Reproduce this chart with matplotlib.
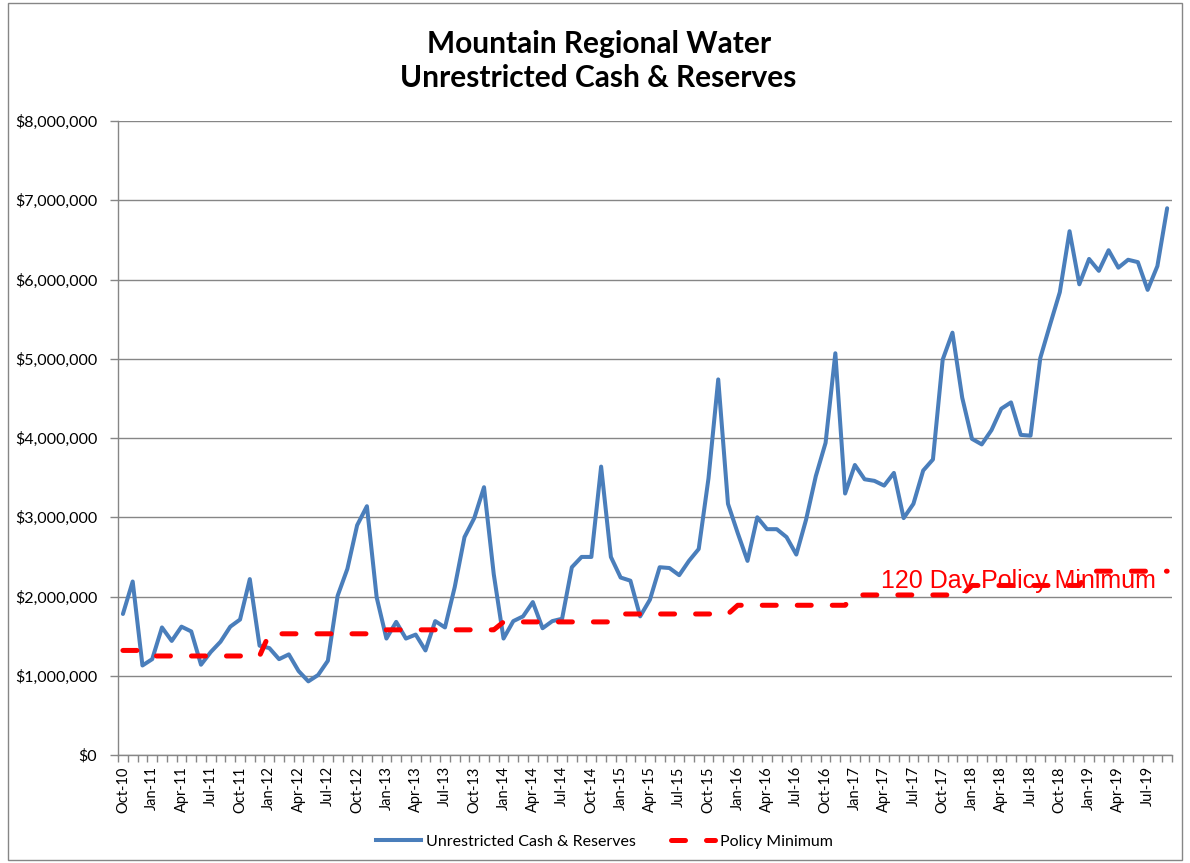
#!/usr/bin/env python3
"""Mountain Regional Water - unrestricted cash & reserves vs policy minimum."""

import matplotlib
matplotlib.use("Agg")
import matplotlib.pyplot as plt
import matplotlib.ticker as mticker
from matplotlib.lines import Line2D
from matplotlib.patches import Rectangle
import pandas as pd

# ---------------------------------------------------------------------------
# Data (monthly, Oct-10 .. Sep-19), values in millions of dollars
# ---------------------------------------------------------------------------
months = pd.date_range("2010-10-01", periods=108, freq="MS").strftime("%b-%y").tolist()

cash = [
    1.78, 2.19, 1.13,                                                  # 2010
    1.21, 1.61, 1.44, 1.62, 1.56, 1.14, 1.30, 1.43, 1.62, 1.71, 2.22, 1.38,  # 2011
    1.35, 1.21, 1.27, 1.06, 0.93, 1.01, 1.19, 2.01, 2.35, 2.90, 3.14, 1.99,  # 2012
    1.47, 1.68, 1.47, 1.52, 1.32, 1.69, 1.61, 2.12, 2.75, 2.99, 3.38, 2.28,  # 2013
    1.47, 1.69, 1.75, 1.93, 1.60, 1.69, 1.72, 2.37, 2.50, 2.50, 3.64, 2.50,  # 2014
    2.24, 2.20, 1.75, 1.96, 2.37, 2.36, 2.27, 2.45, 2.60, 3.49, 4.74, 3.17,  # 2015
    2.80, 2.45, 3.00, 2.85, 2.85, 2.75, 2.53, 2.97, 3.52, 3.94, 5.07, 3.30,  # 2016
    3.66, 3.48, 3.46, 3.40, 3.56, 2.99, 3.17, 3.59, 3.73, 4.99, 5.33, 4.51,  # 2017
    3.99, 3.92, 4.10, 4.37, 4.45, 4.04, 4.03, 5.01, 5.43, 5.84, 6.61, 5.94,  # 2018
    6.26, 6.11, 6.37, 6.15, 6.25, 6.22, 5.87, 6.17, 6.90,              # 2019
]

policy_min = [
    1.32, 1.32, 1.32,
    1.25, 1.25, 1.25, 1.25, 1.25, 1.25, 1.25, 1.25, 1.25, 1.25, 1.25, 1.25,
    1.53, 1.53, 1.53, 1.53, 1.53, 1.53, 1.53, 1.53, 1.53, 1.53, 1.53, 1.53,
    1.58, 1.58, 1.58, 1.58, 1.58, 1.58, 1.58, 1.58, 1.58, 1.58, 1.58, 1.58,
    1.68, 1.68, 1.68, 1.68, 1.68, 1.68, 1.68, 1.68, 1.68, 1.68, 1.68, 1.68,
    1.78, 1.78, 1.78, 1.78, 1.78, 1.78, 1.78, 1.78, 1.78, 1.78, 1.78, 1.78,
    1.89, 1.89, 1.89, 1.89, 1.89, 1.89, 1.89, 1.89, 1.89, 1.89, 1.89, 1.89,
    2.02, 2.02, 2.02, 2.02, 2.02, 2.02, 2.02, 2.02, 2.02, 2.02, 2.02, 2.02,
    2.14, 2.14, 2.14, 2.14, 2.14, 2.14, 2.14, 2.14, 2.14, 2.14, 2.14, 2.14,
    2.32, 2.32, 2.32, 2.32, 2.32, 2.32, 2.32, 2.32, 2.32,
]

cash = [v * 1e6 for v in cash]
policy_min = [v * 1e6 for v in policy_min]

TITLE = "Mountain Regional Water\nUnrestricted Cash & Reserves"
NOTE = "120 Day Policy Minimum"

BLUE = "#4A7EBB"
RED = "#FF0000"
GRID = "#868686"
FONT = ["Lato", "DejaVu Sans"]

# ---------------------------------------------------------------------------
# Figure
# ---------------------------------------------------------------------------
fig = plt.figure(figsize=(11.9, 8.63), dpi=100)
ax = fig.add_axes([0.0992, 0.1251, 0.8857, 0.7346])

x = list(range(len(months)))
ax.plot(x, cash, color=BLUE, lw=2.9, solid_joinstyle="round",
        solid_capstyle="round", zorder=3)
ax.plot(x, policy_min, color=RED, lw=3.6, dashes=(2.8, 4.2),
        dash_capstyle="round", zorder=4)

ax.set_xlim(-0.5, len(months) - 0.5)
ax.set_ylim(0, 8e6)

ax.yaxis.set_major_locator(mticker.MultipleLocator(1e6))
ax.yaxis.set_major_formatter(mticker.FuncFormatter(lambda v, p: f"${v:,.0f}"))
ax.grid(axis="y", color=GRID, lw=1.0)
ax.set_axisbelow(True)

ax.set_xticks(x[::3])
ax.set_xticklabels(months[::3], rotation=90, family=FONT, fontsize=10.5)
ax.set_xticks([i - 0.5 for i in range(len(months) + 1)], minor=True)
ax.tick_params(axis="x", which="major", length=0, pad=8)
ax.tick_params(axis="x", which="minor", length=5, color=GRID, width=1)
ax.tick_params(axis="y", length=6, color=GRID, width=1, pad=9)
for lab in ax.get_yticklabels():
    lab.set_family(FONT)
    lab.set_fontsize(11.5)

for s in ("top", "right"):
    ax.spines[s].set_visible(False)
for s in ("left", "bottom"):
    ax.spines[s].set_color(GRID)
    ax.spines[s].set_linewidth(1)

ax.text(0.7235, 0.263, NOTE, transform=ax.transAxes, color=RED,
        fontsize=18, family=["Liberation Sans", "DejaVu Sans"], zorder=5)

fig.text(0.503, 0.929, TITLE, ha="center", va="center", fontsize=21.5,
         fontweight="bold", family=FONT, linespacing=1.25)

handles = [
    Line2D([], [], color=BLUE, lw=2.9),
    Line2D([], [], color=RED, lw=3.6, dashes=(2.8, 4.2), dash_capstyle="round"),
]
fig.legend(handles, ["Unrestricted Cash & Reserves", "Policy Minimum"],
           loc="center", bbox_to_anchor=(0.508, 0.025), ncol=2, frameon=False,
           prop={"family": FONT, "size": 11.5}, handlelength=2.8,
           handletextpad=0.3, columnspacing=2.2)

# outer chart border
fig.patches.append(Rectangle((0.007, 0.004), 0.986, 0.992, transform=fig.transFigure,
                             fill=False, edgecolor=GRID, lw=1))

fig.savefig("out.png", dpi=100)
